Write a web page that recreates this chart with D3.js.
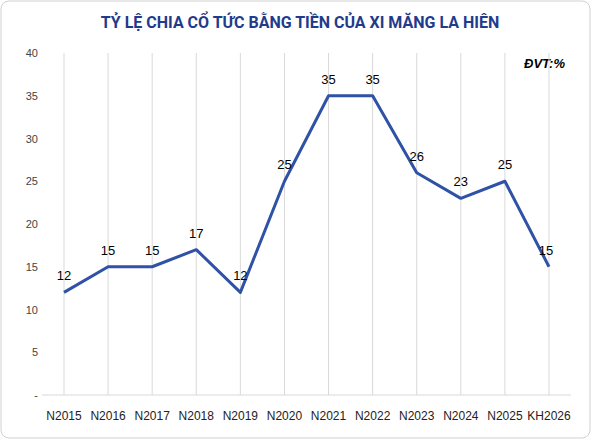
<!DOCTYPE html><html><head><meta charset="utf-8"><script src="https://cdn.jsdelivr.net/npm/d3@7"></script>
<style>body{margin:0;background:#fff}</style></head><body><svg id="c" width="591" height="439"></svg>
<script>
const categories=["N2015","N2016","N2017","N2018","N2019","N2020","N2021","N2022","N2023","N2024","N2025","KH2026"];
const values=[12,15,15,17,12,25,35,35,26,23,25,15];
const yTicks=[0,5,10,15,20,25,30,35,40];
const svg=d3.select("#c");
svg.append("rect").attr("x",1).attr("y",1).attr("width",589).attr("height",437).attr("rx",8).attr("fill","#fff").attr("stroke","#d0d0d0");
const x=d3.scalePoint().domain(categories).range([64,549]);
const y=d3.scaleLinear().domain([0,40]).range([395,53]);
svg.append("text").attr("x",300).attr("y",28).attr("text-anchor","middle").attr("font-family","Roboto, Arial, sans-serif").attr("font-weight","bold").attr("font-size",16).attr("fill","#1f3b8c").text("TỶ LỆ CHIA CỔ TỨC BẰNG TIỀN CỦA XI MĂNG LA HIÊN");
svg.append("text").attr("x",565).attr("y",68).attr("text-anchor","end").attr("font-family","Arial, sans-serif").attr("font-weight","bold").attr("font-style","italic").attr("font-size",13).text("ĐVT:%");
svg.selectAll(".g").data(categories).join("line").attr("x1",d=>x(d)).attr("x2",d=>x(d)).attr("y1",53).attr("y2",395).attr("stroke","#d9d9d9");
svg.append("line").attr("x1",42).attr("x2",571).attr("y1",395).attr("y2",395).attr("stroke","#d9d9d9");
svg.selectAll(".yt").data(yTicks).join("text").attr("x",38).attr("y",d=>y(d)+4).attr("text-anchor","end").attr("font-family","Arial, sans-serif").attr("font-size",11).attr("fill","#444").text(d=>d===0?"-":d);
svg.selectAll(".xt").data(categories).join("text").attr("x",d=>x(d)).attr("y",420).attr("text-anchor","middle").attr("font-family","Arial, sans-serif").attr("font-size",12).attr("fill","#222").text(d=>d);
svg.append("path").datum(values).attr("fill","none").attr("stroke","#2f52a6").attr("stroke-width",3).attr("stroke-linejoin","round")
 .attr("d",d3.line().x((d,i)=>x(categories[i])).y(d=>y(d)));
svg.selectAll(".lb").data(values).join("text").attr("x",(d,i)=>x(categories[i])+(i==11?-3:0)).attr("y",d=>y(d)-12).attr("text-anchor","middle").attr("font-family","Arial, sans-serif").attr("font-size",13).attr("fill","#000").text(d=>d);
</script></body></html>
